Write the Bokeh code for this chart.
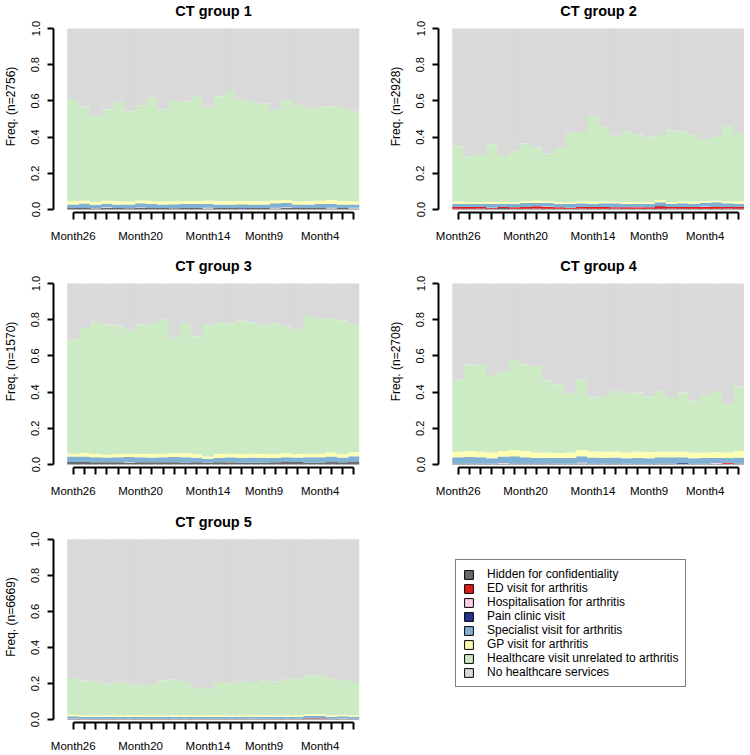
from bokeh.plotting import figure
from bokeh.layouts import column, row
from bokeh.models import (ColumnDataSource, FixedTicker, PrintfTickFormatter,
                          Range1d, Legend, LegendItem, Label)
from bokeh.embed import file_html
from bokeh.resources import INLINE

FONT = "Liberation Sans"

# ---------------- data ----------------
month_labels = ["Month26", "Month25", "Month24", "Month23", "Month22", "Month21",
                "Month20", "Month19", "Month18", "Month17", "Month16", "Month15",
                "Month14", "Month13", "Month12", "Month11", "Month10", "Month9",
                "Month8", "Month7", "Month6", "Month5", "Month4", "Month3",
                "Month2", "Month1"]
shown_months = ["Month26", "Month20", "Month14", "Month9", "Month4"]

states = ["Hidden for confidentiality", "ED visit for arthritis",
          "Hospitalisation for arthritis", "Pain clinic visit",
          "Specialist visit for arthritis", "GP visit for arthritis",
          "Healthcare visit unrelated to arthritis", "No healthcare services"]
state_colors = ["#6A6A6A", "#E31A1C", "#FCCDE5", "#26338C",
                "#80B1D3", "#FFFFB3", "#CCEBC5", "#D9D9D9"]

group_titles = ["CT group 1", "CT group 2", "CT group 3", "CT group 4", "CT group 5"]
group_n = [2756, 2928, 1570, 2708, 6669]

# CT group 1
g1_hidden = [0.008,0.008,0.006,0.008,0.008,0.007,0.008,0.008,0.008,0.007,0.008,0.008,0.006,0.008,0.008,0.006,0.008,0.008,0.006,0.008,0.008,0.008,0.008,0.006,0.008,0.006]
g1_ed     = [0,0,0,0,0,0,0,0,0,0,0,0,0,0,0,0,0,0,0,0,0,0,0,0,0,0]
g1_hosp   = [0,0,0,0.004,0,0,0.003,0,0,0,0,0,0.004,0,0,0,0,0,0.004,0.004,0,0,0,0.004,0,0.004]
g1_pain   = [0,0,0,0,0,0,0,0,0,0,0,0,0,0,0,0.005,0,0,0,0,0,0,0,0,0,0]
g1_spec   = [0.020,0.025,0.020,0.020,0.020,0.020,0.024,0.024,0.020,0.022,0.022,0.022,0.020,0.020,0.020,0.018,0.020,0.020,0.024,0.024,0.020,0.020,0.022,0.022,0.020,0.018]
g1_gp     = [0.017,0.016,0.016,0.016,0.017,0.016,0.015,0.015,0.016,0.016,0.017,0.017,0.018,0.017,0.017,0.018,0.017,0.018,0.016,0.017,0.016,0.018,0.018,0.020,0.018,0.018]
g1_unrel  = [0.560,0.520,0.470,0.505,0.550,0.500,0.525,0.570,0.510,0.550,0.550,0.575,0.520,0.580,0.610,0.560,0.550,0.540,0.500,0.550,0.535,0.510,0.520,0.517,0.520,0.500]

# CT group 2
g2_hidden = [0.004,0.004,0.006,0.004,0.008,0.004,0.004,0.006,0.004,0.004,0.004,0.006,0.004,0.004,0.006,0.004,0.004,0.004,0.004,0.006,0.004,0.004,0.004,0.004,0.006,0.004]
g2_ed     = [0.010,0.010,0.008,0.004,0.006,0.008,0.010,0.012,0.010,0.008,0.006,0.008,0.010,0.010,0.006,0.008,0.008,0.008,0.014,0.008,0.010,0.010,0.010,0.012,0.008,0.010]
g2_hosp   = [0,0,0,0.002,0,0,0,0,0.002,0,0,0,0,0,0,0,0.002,0,0,0,0,0,0.002,0,0,0]
g2_pain   = [0,0,0,0,0,0,0,0,0,0,0,0,0,0,0,0,0,0,0.004,0,0,0,0,0,0,0]
g2_spec   = [0.018,0.016,0.018,0.022,0.016,0.020,0.022,0.018,0.020,0.018,0.022,0.020,0.018,0.020,0.022,0.018,0.016,0.018,0.018,0.018,0.020,0.018,0.020,0.024,0.020,0.018]
g2_gp     = [0.012,0.010,0.010,0.010,0.012,0.008,0.010,0.012,0.010,0.010,0.008,0.010,0.012,0.010,0.010,0.010,0.010,0.010,0.012,0.010,0.010,0.012,0.010,0.008,0.010,0.012]
g2_unrel  = [0.304,0.254,0.264,0.319,0.254,0.284,0.319,0.294,0.264,0.299,0.384,0.384,0.474,0.414,0.364,0.389,0.374,0.364,0.360,0.394,0.389,0.369,0.344,0.354,0.414,0.379]

# CT group 3
g3_hidden = [0.014,0.014,0.012,0.012,0.012,0.010,0.012,0.012,0.012,0.012,0.010,0.012,0.010,0.012,0.012,0.010,0.010,0.010,0.012,0.014,0.014,0.010,0.010,0.012,0.012,0.014]
g3_ed     = [0,0,0,0,0,0,0,0,0,0,0,0,0,0,0,0,0,0,0,0,0,0,0,0,0,0]
g3_hosp   = [0,0,0,0,0,0.002,0,0,0,0,0,0,0,0,0.002,0,0,0,0,0,0,0,0,0,0,0]
g3_pain   = [0,0,0,0,0,0,0,0,0,0,0,0,0,0,0,0,0,0,0,0,0,0,0,0.004,0,0]
g3_spec   = [0.030,0.030,0.028,0.026,0.028,0.030,0.028,0.026,0.028,0.030,0.030,0.025,0.022,0.024,0.026,0.026,0.028,0.026,0.024,0.026,0.024,0.030,0.030,0.028,0.026,0.032]
g3_gp     = [0.016,0.020,0.018,0.016,0.018,0.018,0.018,0.020,0.020,0.020,0.022,0.020,0.012,0.022,0.020,0.020,0.022,0.022,0.020,0.022,0.020,0.020,0.020,0.022,0.018,0.022]
g3_unrel  = [0.630,0.690,0.730,0.720,0.710,0.685,0.715,0.720,0.740,0.640,0.715,0.650,0.725,0.725,0.720,0.740,0.725,0.710,0.725,0.705,0.690,0.760,0.745,0.740,0.740,0.710]

# CT group 4
g4_hidden = [0.006,0.006,0.004,0.004,0.004,0.006,0.006,0.006,0.006,0.004,0.004,0.006,0.004,0.004,0.006,0.004,0.006,0.004,0.004,0.006,0.004,0.004,0.006,0.004,0.004,0.006]
g4_ed     = [0,0,0,0,0,0,0,0,0,0,0,0,0,0,0,0,0,0,0,0,0,0,0,0,0.006,0]
g4_hosp   = [0,0,0,0,0.004,0,0,0,0,0,0,0.004,0,0,0,0,0,0,0,0,0,0,0,0.004,0,0]
g4_pain   = [0,0,0,0,0,0,0,0,0,0,0,0,0,0,0,0,0,0,0,0,0.004,0,0,0,0,0]
g4_spec   = [0.034,0.036,0.036,0.030,0.036,0.040,0.034,0.030,0.030,0.032,0.032,0.036,0.034,0.032,0.032,0.030,0.030,0.030,0.036,0.034,0.032,0.030,0.030,0.028,0.026,0.032]
g4_gp     = [0.030,0.032,0.030,0.032,0.030,0.034,0.034,0.030,0.030,0.028,0.030,0.034,0.034,0.034,0.032,0.032,0.034,0.034,0.030,0.030,0.030,0.032,0.030,0.032,0.030,0.036]
g4_unrel  = [0.398,0.478,0.478,0.428,0.438,0.498,0.478,0.478,0.398,0.378,0.328,0.388,0.298,0.308,0.338,0.328,0.328,0.308,0.338,0.298,0.328,0.288,0.318,0.338,0.268,0.358]

# CT group 5
g5_hidden = [0.004,0.004,0.004,0.004,0.004,0.004,0.004,0.004,0.004,0.004,0.004,0.004,0.004,0.004,0.004,0.004,0.004,0.004,0.004,0.004,0.004,0.004,0.004,0.004,0.004,0.004]
g5_ed     = [0,0,0,0,0,0,0,0,0,0,0,0,0,0,0,0,0,0,0,0,0,0.003,0.003,0,0,0]
g5_hosp   = [0.002,0,0,0,0,0,0,0,0,0,0,0,0,0,0,0,0.002,0,0,0,0,0,0,0,0.002,0]
g5_pain   = [0,0,0,0,0,0,0,0,0,0,0,0,0,0,0,0,0,0,0,0,0,0,0,0,0,0]
g5_spec   = [0.012,0.010,0.012,0.012,0.010,0.012,0.012,0.010,0.012,0.012,0.012,0.010,0.012,0.012,0.012,0.010,0.010,0.012,0.012,0.010,0.012,0.014,0.014,0.012,0.012,0.012]
g5_gp     = [0.008,0.008,0.006,0.008,0.008,0.008,0.008,0.008,0.006,0.008,0.008,0.008,0.008,0.008,0.006,0.008,0.008,0.008,0.006,0.008,0.008,0.008,0.008,0.008,0.008,0.008]
g5_unrel  = [0.204,0.194,0.189,0.174,0.189,0.174,0.169,0.169,0.194,0.199,0.184,0.159,0.149,0.184,0.179,0.189,0.184,0.194,0.189,0.199,0.204,0.219,0.214,0.204,0.194,0.184]

groups = [
    [g1_hidden, g1_ed, g1_hosp, g1_pain, g1_spec, g1_gp, g1_unrel],
    [g2_hidden, g2_ed, g2_hosp, g2_pain, g2_spec, g2_gp, g2_unrel],
    [g3_hidden, g3_ed, g3_hosp, g3_pain, g3_spec, g3_gp, g3_unrel],
    [g4_hidden, g4_ed, g4_hosp, g4_pain, g4_spec, g4_gp, g4_unrel],
    [g5_hidden, g5_ed, g5_hosp, g5_pain, g5_spec, g5_gp, g5_unrel],
]

keys = ["s%d" % i for i in range(len(states))]
NM = len(month_labels)

PX_PER_UNIT = 181.0      # vertical pixels for a share of 1.0
TITLE_SPACE = 28         # pixels kept above 1.0 for the panel title
FRAME_H = 212            # frame: title space + 1.0 span + small gap above x axis


def make_panel(gi, width, height, bottom, right):
    series = groups[gi]
    data = {"x": list(range(NM))}
    for k, vals in zip(keys[:-1], series):
        data[k] = vals
    # share of "No healthcare services" = remainder of each month's distribution
    data[keys[-1]] = [1 - sum(v[i] for v in series) for i in range(NM)]
    src = ColumnDataSource(data)

    y_top = 1.0 + TITLE_SPACE / PX_PER_UNIT
    y_bot = y_top - FRAME_H / PX_PER_UNIT
    p = figure(width=width, height=height, output_backend="svg", toolbar_location=None,
               x_range=Range1d(-1.755, NM - 0.5), y_range=Range1d(y_bot, y_top),
               min_border_left=53, min_border_right=right,
               min_border_top=0, min_border_bottom=bottom)
    p.vbar_stack(keys, x="x", width=1.06, source=src,
                 fill_color=state_colors, line_color=None)

    p.xgrid.visible = False
    p.ygrid.visible = False
    p.outline_line_color = None

    p.add_layout(Label(x=(NM - 1) / 2, y=1.0, y_offset=17.5, text=group_titles[gi],
                       text_align="center", text_baseline="middle",
                       text_font=FONT, text_font_style="bold",
                       text_font_size="14.5px", text_color="black"))

    xa = p.xaxis[0]
    xa.ticker = FixedTicker(ticks=list(range(NM)))
    xa.bounds = (0, NM - 1)
    xa.major_label_overrides = {i: (m if m in shown_months else "")
                                for i, m in enumerate(month_labels)}
    xa.axis_line_width = 2
    xa.major_tick_line_width = 2
    xa.major_tick_out = 7
    xa.major_tick_in = 0
    xa.minor_tick_line_color = None
    xa.major_label_standoff = 10
    xa.major_label_text_font = FONT
    xa.major_label_text_font_size = "11.5px"
    xa.major_label_text_color = "black"

    ya = p.yaxis[0]
    ya.ticker = FixedTicker(ticks=[0, 0.2, 0.4, 0.6, 0.8, 1.0])
    ya.formatter = PrintfTickFormatter(format="%.1f")
    ya.bounds = (0, 1)
    ya.major_label_orientation = "vertical"
    ya.axis_line_width = 2
    ya.major_tick_line_width = 2
    ya.major_tick_out = 6
    ya.major_tick_in = 0
    ya.minor_tick_line_color = None
    ya.major_label_standoff = 8
    ya.major_label_text_font = FONT
    ya.major_label_text_font_size = "11px"
    ya.major_label_text_color = "black"
    ya.axis_label = "Freq. (n=%d)" % group_n[gi]
    ya.axis_label_text_font = FONT
    ya.axis_label_text_font_size = "12px"
    ya.axis_label_text_font_style = "normal"
    ya.axis_label_text_color = "black"
    ya.axis_label_standoff = 11
    return p


W1, W2 = 385, 359
H1, H2, H3 = 255, 256, 243

p1 = make_panel(0, W1, H1, 43, 26)
p2 = make_panel(1, W2, H1, 43, 0)
p3 = make_panel(2, W1, H2, 44, 26)
p4 = make_panel(3, W2, H2, 44, 0)
p5 = make_panel(4, W1, H3, 31, 26)

# legend panel
pl = figure(width=W2, height=H3, output_backend="svg", toolbar_location=None,
            x_range=Range1d(0, 1), y_range=Range1d(0, 1),
            x_axis_location=None, y_axis_location=None,
            min_border_left=0, min_border_right=0, min_border_top=0, min_border_bottom=31)
pl.xgrid.visible = False
pl.ygrid.visible = False
pl.outline_line_color = None
items = []
for s, c in zip(states, state_colors):
    # off-range dummy square: only used to draw the legend key
    r = pl.quad(left=[5], right=[6], top=[6], bottom=[5], fill_color=c,
                line_color="black", line_width=1)
    items.append(LegendItem(label=s, renderers=[r]))
leg = Legend(items=items, location=(70, 35), border_line_color="black",
             border_line_width=1, background_fill_color="white", background_fill_alpha=1,
             label_text_font=FONT, label_text_font_size="12px", label_text_color="black",
             glyph_width=11, glyph_height=11, label_standoff=13, padding=7,
             spacing=0, label_height=14, margin=0)
pl.add_layout(leg)

layout = column(row(p1, p2), row(p3, p4), row(p5, pl))

open("out.html", "w").write(file_html(layout, INLINE))
